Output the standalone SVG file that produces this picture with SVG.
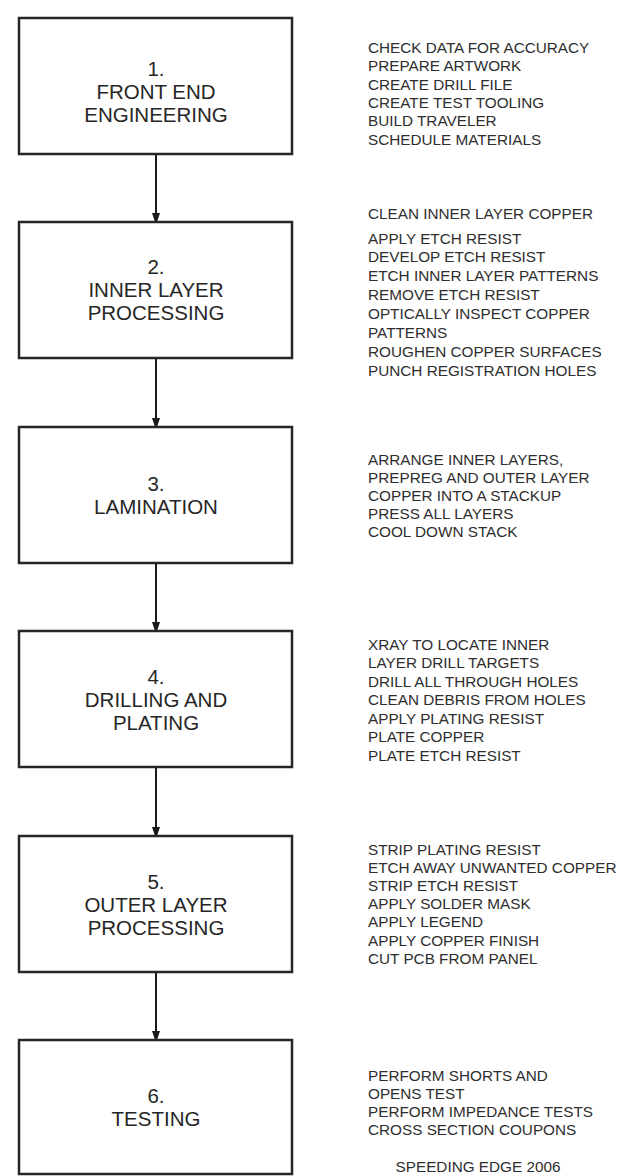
<svg xmlns="http://www.w3.org/2000/svg" width="635" height="1176" viewBox="0 0 635 1176">
<defs>
<style>
.box{fill:#fff;stroke:#262626;stroke-width:2.5}
.lbl{font-family:"Liberation Sans",Arial,sans-serif;font-size:20.5px;fill:#262626;text-anchor:middle}
.note{font-family:"Liberation Sans",Arial,sans-serif;font-size:15.3px;fill:#2e2e2e}
.conn{stroke:#1a1a1a;stroke-width:2;fill:none;marker-end:url(#ah)}
</style>
<marker id="ah" markerUnits="userSpaceOnUse" markerWidth="12" markerHeight="18" refX="12" refY="6" orient="auto" viewBox="0 0 18 12">
<path d="M0,0 L18,6 L0,12 z" fill="#1a1a1a"/>
</marker>
</defs>
<rect width="635" height="1176" fill="#fff"/>
<g id="connectors">
<line class="conn" x1="156" y1="155" x2="156" y2="221"/>
<line class="conn" x1="156" y1="359" x2="156" y2="426"/>
<line class="conn" x1="156" y1="564" x2="156" y2="630"/>
<line class="conn" x1="156" y1="768" x2="156" y2="835"/>
<line class="conn" x1="156" y1="973" x2="156" y2="1039"/>
</g>
<g id="node1">
<rect class="box" x="19" y="18" width="273" height="136"/>
<text class="lbl"><tspan x="156" y="76">1.</tspan><tspan x="156" y="99">FRONT END</tspan><tspan x="156" y="122">ENGINEERING</tspan></text>
</g>
<g id="node2">
<rect class="box" x="19" y="222" width="273" height="136"/>
<text class="lbl"><tspan x="156" y="274">2.</tspan><tspan x="156" y="297">INNER LAYER</tspan><tspan x="156" y="320">PROCESSING</tspan></text>
</g>
<g id="node3">
<rect class="box" x="19" y="427" width="273" height="136"/>
<text class="lbl"><tspan x="156" y="491">3.</tspan><tspan x="156" y="514">LAMINATION</tspan></text>
</g>
<g id="node4">
<rect class="box" x="19" y="631" width="273" height="136"/>
<text class="lbl"><tspan x="156" y="684">4.</tspan><tspan x="156" y="707">DRILLING AND</tspan><tspan x="156" y="730">PLATING</tspan></text>
</g>
<g id="node5">
<rect class="box" x="19" y="836" width="273" height="136"/>
<text class="lbl"><tspan x="156" y="889">5.</tspan><tspan x="156" y="912">OUTER LAYER</tspan><tspan x="156" y="935">PROCESSING</tspan></text>
</g>
<g id="node6">
<rect class="box" x="19" y="1040" width="273" height="134"/>
<text class="lbl"><tspan x="156" y="1103">6.</tspan><tspan x="156" y="1126">TESTING</tspan></text>
</g>
<g id="notes1">
<text class="note"><tspan x="368" y="53">CHECK DATA FOR ACCURACY</tspan><tspan x="368" y="71.3">PREPARE ARTWORK</tspan><tspan x="368" y="89.6">CREATE DRILL FILE</tspan><tspan x="368" y="107.9">CREATE TEST TOOLING</tspan><tspan x="368" y="126.2">BUILD TRAVELER</tspan><tspan x="368" y="144.5">SCHEDULE MATERIALS</tspan></text>
</g>
<g id="notes2">
<text class="note"><tspan x="368" y="218.5">CLEAN INNER LAYER COPPER</tspan><tspan x="368" y="243.5">APPLY ETCH RESIST</tspan><tspan x="368" y="262.4">DEVELOP ETCH RESIST</tspan><tspan x="368" y="281.3">ETCH INNER LAYER PATTERNS</tspan><tspan x="368" y="300.2">REMOVE ETCH RESIST</tspan><tspan x="368" y="319.1">OPTICALLY INSPECT COPPER</tspan><tspan x="368" y="338">PATTERNS</tspan><tspan x="368" y="356.9">ROUGHEN COPPER SURFACES</tspan><tspan x="368" y="375.8">PUNCH REGISTRATION HOLES</tspan></text>
</g>
<g id="notes3">
<text class="note"><tspan x="368" y="464.5">ARRANGE INNER LAYERS,</tspan><tspan x="368" y="482.5">PREPREG AND OUTER LAYER</tspan><tspan x="368" y="500.5">COPPER INTO A STACKUP</tspan><tspan x="368" y="518.5">PRESS ALL LAYERS</tspan><tspan x="368" y="536.5">COOL DOWN STACK</tspan></text>
</g>
<g id="notes4">
<text class="note"><tspan x="368" y="649.5">XRAY TO LOCATE INNER</tspan><tspan x="368" y="668">LAYER DRILL TARGETS</tspan><tspan x="368" y="686.5">DRILL ALL THROUGH HOLES</tspan><tspan x="368" y="705">CLEAN DEBRIS FROM HOLES</tspan><tspan x="368" y="723.5">APPLY PLATING RESIST</tspan><tspan x="368" y="742">PLATE COPPER</tspan><tspan x="368" y="760.5">PLATE ETCH RESIST</tspan></text>
</g>
<g id="notes5">
<text class="note"><tspan x="368" y="854.5">STRIP PLATING RESIST</tspan><tspan x="368" y="872.7">ETCH AWAY UNWANTED COPPER</tspan><tspan x="368" y="890.9">STRIP ETCH RESIST</tspan><tspan x="368" y="909.1">APPLY SOLDER MASK</tspan><tspan x="368" y="927.3">APPLY LEGEND</tspan><tspan x="368" y="945.5">APPLY COPPER FINISH</tspan><tspan x="368" y="963.7">CUT PCB FROM PANEL</tspan></text>
</g>
<g id="notes6">
<text class="note"><tspan x="368" y="1080.5">PERFORM SHORTS AND</tspan><tspan x="368" y="1098.8">OPENS TEST</tspan><tspan x="368" y="1117.1">PERFORM IMPEDANCE TESTS</tspan><tspan x="368" y="1135.4">CROSS SECTION COUPONS</tspan></text>
<text class="note" x="478" y="1172" text-anchor="middle">SPEEDING EDGE 2006</text>
</g>
</svg>
